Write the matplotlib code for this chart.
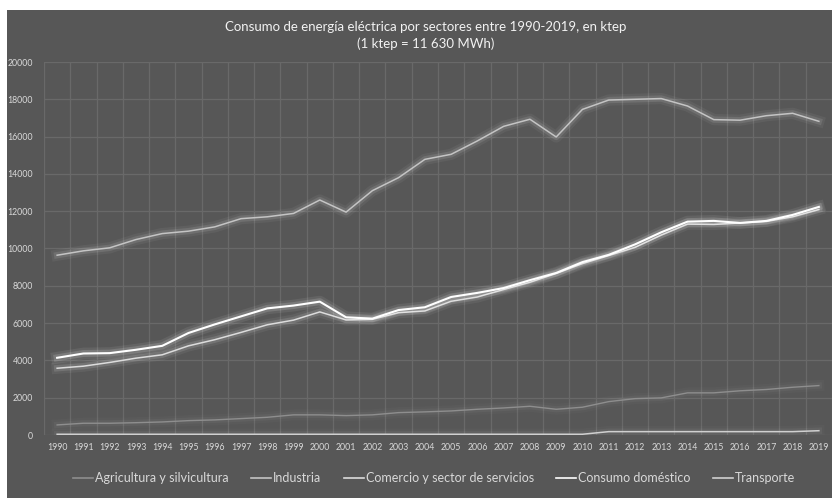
import matplotlib
matplotlib.use('Agg')  # Non-interactive backend
import matplotlib.pyplot as plt
import matplotlib.patheffects as pe
from matplotlib.patches import Rectangle

# Data (ktep)
years = list(range(1990, 2020))
agricultura = [540, 630, 630, 660, 700, 770, 810, 880, 950, 1080, 1080, 1040, 1080, 1200, 1240,
               1290, 1380, 1450, 1540, 1380, 1490, 1790, 1950, 1990, 2260, 2260, 2370, 2440, 2560, 2650]
industria = [9640, 9875, 10036, 10480, 10800, 10930, 11160, 11600, 11700, 11880, 12600, 11950, 13100, 13800, 14780,
             15050, 15770, 16550, 16930, 15980, 17460, 17960, 18000, 18040, 17640, 16910, 16880, 17120, 17250, 16820]
comercio = [3580, 3690, 3890, 4120, 4300, 4780, 5110, 5500, 5910, 6160, 6600, 6170, 6200, 6560, 6650,
            7170, 7400, 7800, 8190, 8660, 9190, 9620, 10060, 10720, 11310, 11290, 11370, 11450, 11700, 12090]
consumo = [4140, 4370, 4390, 4570, 4780, 5470, 5930, 6360, 6790, 6940, 7150, 6310, 6240, 6700, 6850,
           7400, 7620, 7880, 8300, 8690, 9270, 9660, 10220, 10870, 11440, 11480, 11370, 11480, 11800, 12230]
transporte = [40, 40, 40, 40, 40, 40, 40, 40, 40, 40, 40, 40, 40, 40, 40,
              40, 40, 40, 40, 40, 40, 180, 180, 180, 180, 180, 180, 180, 180, 230]

series_names = ["Agricultura y silvicultura", "Industria", "Comercio y sector de servicios",
                "Consumo doméstico", "Transporte"]
series_values = [agricultura, industria, comercio, consumo, transporte]
series_colors = ["#8e8e8e", "#c4c4c4", "#dcdcdc", "#ffffff", "#d0d0d0"]
series_widths = [1.0, 1.1, 1.1, 1.5, 1.1]
series_glow = [0.04, 0.10, 0.12, 0.15, 0.05]

title = "Consumo de energía eléctrica por sectores entre 1990-2019, en ktep\n(1 ktep = 11 630 MWh)"

plt.rcParams["font.family"] = ["Lato", "DejaVu Sans"]

BG = "#575757"
GRID = "#696969"

fig = plt.figure(figsize=(8.32, 4.98), dpi=100, facecolor="white")
# dark chart area (white margin on left and top like the original)
fig.patches.append(Rectangle((7 / 832, 0), 1, 488 / 498, transform=fig.transFigure,
                             facecolor=BG, edgecolor="none", zorder=-10))

ax = fig.add_axes([44 / 832, 1 - 435 / 498, 1 - 44 / 832, (435 - 62) / 498])
ax.set_zorder(1)
ax.patch.set_alpha(0)

x = list(range(len(years)))
for name, vals, col, lw, glow in zip(series_names, series_values, series_colors, series_widths, series_glow):
    ax.plot(x, vals, color=col, lw=lw, label=name, solid_joinstyle="round", zorder=3,
            path_effects=[pe.Stroke(linewidth=lw + 7, foreground="white", alpha=glow * 0.5),
                          pe.Stroke(linewidth=lw + 3.5, foreground="white", alpha=glow),
                          pe.Normal()])

ax.set_xlim(-0.5, len(years) - 0.5)
ax.set_ylim(0, 20000)
ax.set_yticks(range(0, 20001, 2000))
ax.set_xticks(x)
ax.set_xticklabels([str(y) for y in years])

# gridlines: horizontal at ticks, vertical between categories
for yv in range(0, 20001, 2000):
    ax.axhline(yv, color=GRID, lw=0.9, zorder=1)
for xv in range(len(years) + 1):
    ax.axvline(xv - 0.5, color=GRID, lw=0.9, zorder=1)

for s in ax.spines.values():
    s.set_visible(False)
ax.tick_params(axis="both", length=0, colors="#d9d9d9", labelsize=6.3)
ax.tick_params(axis="y", pad=8)
ax.tick_params(axis="x", pad=6)

fig.text(0.512, 0.958, title, ha="center", va="top", color="#f2f2f2", fontsize=9.5,
         linespacing=1.45)

leg = fig.legend(loc="center", bbox_to_anchor=(0.522, 0.04), ncol=5, frameon=False,
                 fontsize=9, handlelength=1.6, handletextpad=0.15, columnspacing=1.8,
                 labelcolor="#d9d9d9")
for h in leg.get_lines():
    h.set_path_effects([])
    h.set_linewidth(1.2)

plt.savefig("out.png", dpi=100, facecolor="white")
plt.close()
